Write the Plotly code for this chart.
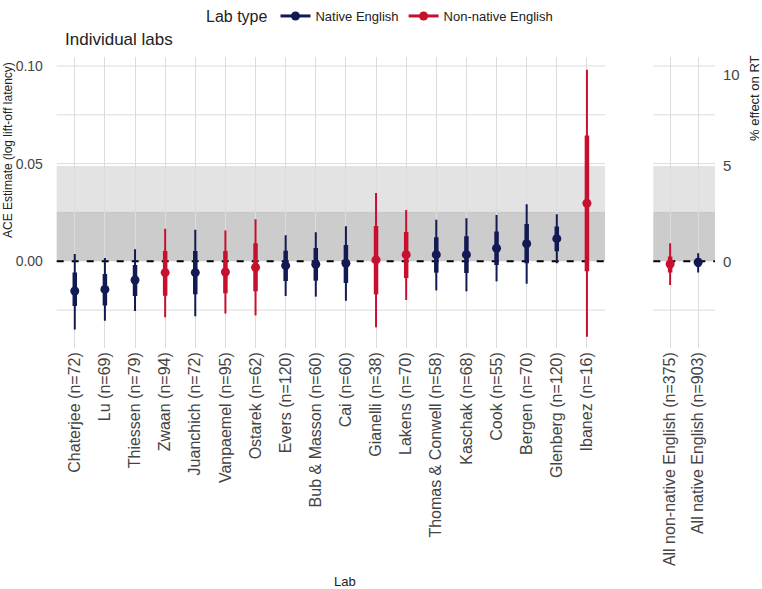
import math
import plotly.graph_objects as go

# ---------------- data ----------------
labs = ["Chaterjee (n=72)", "Lu (n=69)", "Thiessen (n=79)", "Zwaan (n=94)",
        "Juanchich (n=72)", "Vanpaemel (n=95)", "Ostarek (n=62)", "Evers (n=120)",
        "Bub & Masson (n=60)", "Cai (n=60)", "Gianelli (n=38)", "Lakens (n=70)",
        "Thomas & Conwell (n=58)", "Kaschak (n=68)", "Cook (n=55)", "Bergen (n=70)",
        "Glenberg (n=120)", "Ibanez (n=16)"]
lab_type = ["Native English", "Native English", "Native English", "Non-native English",
            "Native English", "Non-native English", "Non-native English", "Native English",
            "Native English", "Native English", "Non-native English", "Non-native English",
            "Native English", "Native English", "Native English", "Native English",
            "Native English", "Non-native English"]
estimate = [-0.0152, -0.0144, -0.0096, -0.0058, -0.0058, -0.0055, -0.0031, -0.0022,
            -0.0015, -0.0010, 0.0007, 0.0034, 0.0034, 0.0034, 0.0067, 0.0090,
            0.0116, 0.0297]
inner_low = [-0.0229, -0.0226, -0.0178, -0.0176, -0.0169, -0.0164, -0.0154, -0.0101,
             -0.0099, -0.0111, -0.0169, -0.0086, -0.0058, -0.0060, -0.0019, -0.0010,
             0.0051, -0.0051]
inner_high = [-0.0058, -0.0065, -0.0019, 0.0053, 0.0053, 0.0053, 0.0092, 0.0054,
              0.0068, 0.0084, 0.0181, 0.0150, 0.0123, 0.0128, 0.0152, 0.0191,
              0.0178, 0.0644]
outer_low = [-0.0349, -0.0304, -0.0255, -0.0287, -0.0281, -0.0267, -0.0277, -0.0178,
             -0.0181, -0.0202, -0.0338, -0.0198, -0.0149, -0.0154, -0.0103, -0.0115,
             -0.0010, -0.0387]
outer_high = [0.0037, 0.0017, 0.0061, 0.0166, 0.0161, 0.0157, 0.0215, 0.0133,
              0.0149, 0.0179, 0.0350, 0.0263, 0.0213, 0.0220, 0.0237, 0.0292,
              0.0241, 0.0981]

pooled = ["All non-native English (n=375)", "All native English (n=903)"]
pooled_type = ["Non-native English", "Native English"]
pooled_est = [-0.0014, -0.0005]
pooled_inner_low = [-0.0058, -0.0028]
pooled_inner_high = [0.0024, 0.0015]
pooled_outer_low = [-0.0122, -0.0058]
pooled_outer_high = [0.0092, 0.0041]

y_ticks = [0.0, 0.05, 0.10]
y_tick_labels = ["0.00", "0.05", "0.10"]
y_grid = [-0.025, 0.025, 0.05, 0.075, 0.10]   # grid lines (0 is covered by the dashed line)
pct_ticks = [0, 5, 10]          # % effect on RT (secondary axis)
sesoi_pct = [2.5, 5]            # shaded bands in % effect

colors = {"Native English": "#111a52", "Non-native English": "#c8102e"}
types = ["Native English", "Non-native English"]

W, H = 762, 589
FONT = "Liberation Sans, Arial, sans-serif"
TXT = "#222222"
TICK = "#444444"
GRID = "#dcdcdc"

def px_x(p):
    return p / W

def px_y(p):
    return 1 - p / H

fig = go.Figure()

def add_panel(cats, tps, est, ilo, ihi, olo, ohi, xa, ya, legend):
    for t in types:
        idx = [i for i in range(len(cats)) if tps[i] == t]
        if not idx:
            continue
        xs_o, ys_o, xs_i, ys_i = [], [], [], []
        for i in idx:
            xs_o += [cats[i], cats[i], None]
            ys_o += [olo[i], ohi[i], None]
            xs_i += [cats[i], cats[i], None]
            ys_i += [ilo[i], ihi[i], None]
        fig.add_trace(go.Scatter(x=xs_o, y=ys_o, mode="lines", xaxis=xa, yaxis=ya,
                                 line=dict(color=colors[t], width=2), showlegend=False,
                                 hoverinfo="skip"))
        fig.add_trace(go.Scatter(x=xs_i, y=ys_i, mode="lines", xaxis=xa, yaxis=ya,
                                 line=dict(color=colors[t], width=4.5), showlegend=False,
                                 hoverinfo="skip"))
        px, py = [], []
        for i in idx:
            px += [cats[i], None]
            py += [est[i], None]
        fig.add_trace(go.Scatter(x=px, y=py, mode="lines+markers", xaxis=xa, yaxis=ya,
                                 name=t, legendgroup=t, showlegend=legend,
                                 line=dict(color=colors[t], width=3),
                                 marker=dict(color=colors[t], size=9)))

add_panel(labs, lab_type, estimate, inner_low, inner_high, outer_low, outer_high,
          "x", "y", True)
add_panel(pooled, pooled_type, pooled_est, pooled_inner_low, pooled_inner_high,
          pooled_outer_low, pooled_outer_high, "x2", "y2", False)

yr = [-0.0444, 0.1046]
dom_y = [px_y(348), px_y(57)]

fig.update_layout(
    width=W, height=H,
    margin=dict(l=0, r=0, t=0, b=0),
    paper_bgcolor="white", plot_bgcolor="white",
    font=dict(family=FONT, color=TXT),
    showlegend=True,
    legend=dict(orientation="h", x=0.5, xanchor="center", y=px_y(1), yanchor="top",
                title=dict(text="Lab type", font=dict(family=FONT, size=16, color=TXT)),
                font=dict(family=FONT, size=13, color=TXT),
                itemwidth=30, tracegroupgap=0),
    xaxis=dict(domain=[px_x(56.7), px_x(605)], type="category", categoryarray=labs,
               categoryorder="array", range=[-0.6, len(labs) - 0.4], showgrid=True,
               gridcolor=GRID, gridwidth=1, tickangle=-90, ticks="",
               tickfont=dict(family=FONT, size=16, color=TICK), showline=False,
               zeroline=False, anchor="y", automargin=False),
    yaxis=dict(domain=dom_y, range=yr, tickvals=y_ticks, ticktext=y_tick_labels,
               showgrid=False, zeroline=False,
               ticks="outside", ticklen=10, tickcolor="rgba(0,0,0,0)",
               tickfont=dict(family=FONT, size=14, color=TICK),
               anchor="x", automargin=False),
    xaxis2=dict(domain=[px_x(653.3), px_x(715)], type="category", categoryarray=pooled,
                categoryorder="array", range=[-0.6, len(pooled) - 0.4], showgrid=True,
                gridcolor=GRID, gridwidth=1, tickangle=-90, ticks="",
                tickfont=dict(family=FONT, size=16, color=TICK), zeroline=False,
                anchor="y2", automargin=False),
    yaxis2=dict(domain=dom_y, range=yr, showticklabels=False,
                showgrid=False, zeroline=False,
                ticks="", anchor="x2", automargin=False),
    yaxis3=dict(range=yr, overlaying="y2", side="right", anchor="x2",
                tickvals=[math.log(1 + p / 100) for p in pct_ticks],
                ticktext=[str(p) for p in pct_ticks], showgrid=False, zeroline=False,
                ticks="outside", ticklen=4, tickcolor="rgba(0,0,0,0)",
                tickfont=dict(family=FONT, size=15, color=TICK),
                automargin=False),
)

# dummy trace to activate yaxis3
fig.add_trace(go.Scatter(x=[pooled[0]], y=[0], xaxis="x2", yaxis="y3", mode="markers",
                         marker=dict(opacity=0), showlegend=False, hoverinfo="skip"))

shapes = []
for xr, yref in (("x domain", "y"), ("x2 domain", "y2")):
    for g in y_grid:
        shapes.append(dict(type="line", xref=xr, yref=yref, x0=0, x1=1, y0=g, y1=g,
                           line=dict(color=GRID, width=1), layer="below"))
    for p in sesoi_pct[::-1]:
        shapes.append(dict(type="rect", xref=xr, yref=yref, x0=0, x1=1, y0=0,
                           y1=math.log(1 + p / 100), fillcolor="rgba(100,100,100,0.18)",
                           line=dict(width=0), layer="below"))
    shapes.append(dict(type="line", xref=xr, yref=yref, x0=0, x1=1, y0=0, y1=0,
                       line=dict(color="black", width=2, dash="7px,8px"), layer="below"))
fig.update_layout(shapes=shapes)

annotations = [
    dict(text="Individual labs", x=px_x(63), y=px_y(40), xref="paper", yref="paper",
         xanchor="left", yanchor="middle", showarrow=False,
         font=dict(family=FONT, size=17, color=TXT)),
    dict(text="ACE Estimate (log lift-off latency)", x=px_x(8), y=px_y(150),
         xref="paper", yref="paper", xanchor="center", yanchor="middle",
         textangle=-90, showarrow=False, font=dict(family=FONT, size=12, color=TXT)),
    dict(text="% effect on RT", x=px_x(754), y=px_y(98), xref="paper", yref="paper",
         xanchor="center", yanchor="middle", textangle=-90, showarrow=False,
         font=dict(family=FONT, size=13, color=TXT)),
    dict(text="Lab", x=px_x(345), y=px_y(581), xref="paper", yref="paper",
         xanchor="center", yanchor="middle", showarrow=False,
         font=dict(family=FONT, size=13, color=TXT)),
]
fig.update_layout(annotations=annotations)

fig.write_html("out.html", config={"displayModeBar": False},
               post_script="document.body.style.margin='0';")
